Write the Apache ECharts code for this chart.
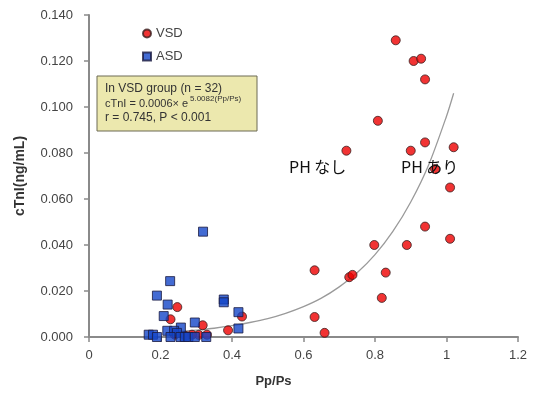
<!DOCTYPE html>
<html>
<head>
<meta charset="utf-8">
<script src="https://cdn.jsdelivr.net/npm/echarts@6/dist/echarts.min.js"></script>
<style>
  html, body { margin: 0; padding: 0; background: #fff; }
  #chart { width: 533px; height: 393px; }
</style>
</head>
<body>
<div id="chart"></div>
<script>
// VSD group: [Pp/Ps, cTnI]
const vsdPoints = [
  [0.858, 0.129], [0.908, 0.120], [0.929, 0.121], [0.940, 0.112],
  [0.808, 0.094], [0.720, 0.081], [0.940, 0.0846], [0.900, 0.081],
  [1.020, 0.0825], [0.968, 0.073], [1.010, 0.065], [0.940, 0.048],
  [1.010, 0.0427], [0.798, 0.040], [0.889, 0.040], [0.631, 0.029],
  [0.728, 0.026], [0.737, 0.027], [0.830, 0.028], [0.819, 0.017],
  [0.631, 0.0087], [0.659, 0.0018], [0.428, 0.0089], [0.389, 0.0029],
  [0.247, 0.013], [0.228, 0.0077], [0.318, 0.0051], [0.307, 0.0009],
  [0.240, 0.001], [0.288, 0.001], [0.270, 0.0005], [0.330, 0.001]
];

// ASD group
const asdPoints = [
  [0.319, 0.0458], [0.227, 0.0243], [0.190, 0.018], [0.220, 0.0141],
  [0.209, 0.0091], [0.296, 0.0063], [0.257, 0.0041], [0.219, 0.0027],
  [0.238, 0.0027], [0.246, 0.0018], [0.377, 0.0163], [0.377, 0.0151],
  [0.418, 0.0108], [0.418, 0.0037], [0.167, 0.001], [0.179, 0.001],
  [0.190, 0.0], [0.228, 0.0], [0.256, 0.0], [0.268, 0.0],
  [0.278, 0.0], [0.296, 0.0], [0.328, 0.0]
];

// fitted curve
const trendX = [0.235, 0.30, 0.35, 0.40, 0.45, 0.50, 0.55, 0.60, 0.65, 0.70,
                0.75, 0.80, 0.85, 0.90, 0.95, 1.00, 1.02];
const trendY = [0.0021, 0.0030, 0.0038, 0.0049, 0.0063, 0.0080, 0.0103, 0.0132, 0.0169, 0.0218,
                0.0279, 0.0358, 0.0459, 0.0587, 0.0748, 0.0960, 0.1060];

const xTicks = { min: 0, max: 1.2, step: 0.2 };
const yTicks = { min: 0, max: 0.14, step: 0.02 };

const chart = echarts.init(document.getElementById('chart'));
const labelFont = 'Liberation Sans, Arial, sans-serif';
const axisColor = '#8a8a8a';

chart.setOption({
  animation: false,
  grid: { left: 89, right: 15, top: 15, bottom: 51 },
  legend: {
    orient: 'vertical',
    left: 137,
    top: 22,
    itemWidth: 8,
    itemHeight: 8,
    itemGap: 10,
    textStyle: { fontFamily: labelFont, fontSize: 13, color: '#444' },
    data: [
      { name: 'VSD', icon: 'circle' },
      { name: 'ASD', icon: 'rect' }
    ]
  },
  xAxis: {
    type: 'value',
    min: xTicks.min,
    max: xTicks.max,
    interval: xTicks.step,
    name: 'Pp/Ps',
    nameLocation: 'middle',
    nameGap: 38,
    nameMoveOverlap: false,
    nameTextStyle: {
      fontFamily: labelFont, fontSize: 13, fontWeight: 'bold', color: '#333',
      padding: [0, 60, 0, 0]
    },
    axisLine: { onZero: false, lineStyle: { color: axisColor, width: 2 } },
    axisTick: { show: true, length: 5, lineStyle: { color: axisColor, width: 1.5 } },
    axisLabel: {
      margin: 12,
      fontFamily: labelFont,
      fontSize: 13,
      color: '#444',
      formatter: v => String(+v.toFixed(1))
    },
    splitLine: { show: false }
  },
  yAxis: {
    type: 'value',
    min: yTicks.min,
    max: yTicks.max,
    interval: yTicks.step,
    name: 'cTnI(ng/mL)',
    nameLocation: 'middle',
    nameGap: 62,
    nameMoveOverlap: false,
    nameTextStyle: { fontFamily: labelFont, fontSize: 14, fontWeight: 'bold', color: '#333' },
    axisLine: { show: true, lineStyle: { color: axisColor, width: 2 } },
    axisTick: { show: true, length: 5, lineStyle: { color: axisColor, width: 1.5 } },
    axisLabel: {
      margin: 16,
      fontFamily: labelFont,
      fontSize: 13,
      color: '#444',
      formatter: v => v.toFixed(3)
    },
    splitLine: { show: false }
  },
  series: [
    {
      name: 'trend',
      type: 'line',
      data: trendX.map((x, i) => [x, trendY[i]]),
      smooth: 0.3,
      showSymbol: false,
      lineStyle: { color: '#9a9a9a', width: 1.3 },
      z: 1
    },
    {
      name: 'ASD',
      type: 'scatter',
      symbol: 'rect',
      symbolSize: 9,
      data: asdPoints,
      itemStyle: { color: '#1446c8', borderColor: '#1a1a40', borderWidth: 1 },
      z: 3
    },
    {
      name: 'VSD',
      type: 'scatter',
      symbol: 'circle',
      symbolSize: 9,
      data: vsdPoints,
      itemStyle: { color: '#ee0000', borderColor: '#3a2020', borderWidth: 1 },
      z: 2
    }
  ],
  graphic: [
    {
      type: 'rect',
      shape: { x: 97, y: 76, width: 160, height: 55 },
      style: { fill: '#ece8ae', stroke: '#6d6b55', lineWidth: 1 },
      z: 10
    },
    {
      type: 'text', x: 105, y: 89, z: 11,
      style: { text: 'In VSD group (n = 32)', font: '12px ' + labelFont, fill: '#333', verticalAlign: 'middle' }
    },
    {
      type: 'text', x: 105, y: 104, z: 11,
      style: { text: 'cTnI = 0.0006× e', font: '11px ' + labelFont, fill: '#333', verticalAlign: 'middle' }
    },
    {
      type: 'text', x: 190, y: 99, z: 11,
      style: { text: '5.0082(Pp/Ps)', font: '8px ' + labelFont, fill: '#333', verticalAlign: 'middle' }
    },
    {
      type: 'text', x: 105, y: 118, z: 11,
      style: { text: 'r = 0.745, P < 0.001', font: '12px ' + labelFont, fill: '#333', verticalAlign: 'middle' }
    },
    {
      type: 'text', x: 289, y: 167, z: 11,
      style: { text: 'PH なし', font: '16px "Noto Sans CJK JP"', fill: '#111', verticalAlign: 'middle' }
    },
    {
      type: 'text', x: 401, y: 167, z: 11,
      style: { text: 'PH あり', font: '16px "Noto Sans CJK JP"', fill: '#111', verticalAlign: 'middle' }
    }
  ]
});
</script>
</body>
</html>
